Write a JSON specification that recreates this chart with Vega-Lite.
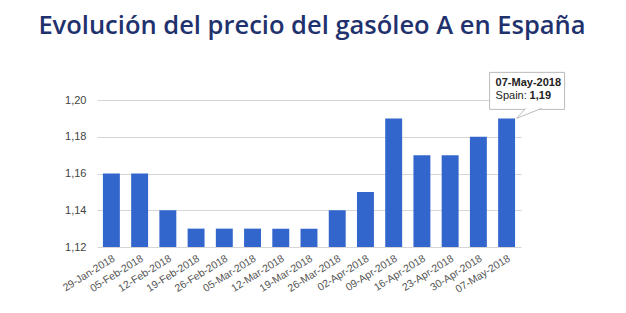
{
  "$schema": "https://vega.github.io/schema/vega-lite/v6.json",
  "autosize": "none",
  "width": 424,
  "height": 147,
  "padding": {"left": 97, "top": 100, "right": 105, "bottom": 66},
  "background": "white",
  "config": {
    "locale": {"number": {"decimal": ",", "thousands": ".", "grouping": [3], "currency": ["", " €"]}},
    "view": {"stroke": null},
    "font": "Liberation Sans"
  },
  "title": {
    "text": "Evolución del precio del gasóleo A en España",
    "font": "Open Sans",
    "fontSize": 25.5,
    "fontWeight": 600,
    "color": "#1f326e",
    "anchor": "middle",
    "baseline": "alphabetic",
    "offset": 12,
    "dx": 3
  },
  "data": {
    "values": [
      {"fecha": "29-Jan-2018", "precio": 1.16},
      {"fecha": "05-Feb-2018", "precio": 1.16},
      {"fecha": "12-Feb-2018", "precio": 1.14},
      {"fecha": "19-Feb-2018", "precio": 1.13},
      {"fecha": "26-Feb-2018", "precio": 1.13},
      {"fecha": "05-Mar-2018", "precio": 1.13},
      {"fecha": "12-Mar-2018", "precio": 1.13},
      {"fecha": "19-Mar-2018", "precio": 1.13},
      {"fecha": "26-Mar-2018", "precio": 1.14},
      {"fecha": "02-Apr-2018", "precio": 1.15},
      {"fecha": "09-Apr-2018", "precio": 1.19},
      {"fecha": "16-Apr-2018", "precio": 1.17},
      {"fecha": "23-Apr-2018", "precio": 1.17},
      {"fecha": "30-Apr-2018", "precio": 1.18},
      {"fecha": "07-May-2018", "precio": 1.19}
    ]
  },
  "encoding": {
    "x": {
      "field": "fecha",
      "type": "nominal",
      "sort": null,
      "title": null,
      "scale": {"paddingInner": 0.4, "paddingOuter": 0.21},
      "axis": {
        "labelAngle": -32,
        "labelFontSize": 10.5,
        "labelColor": "#555555",
        "ticks": false,
        "domain": false,
        "labelPadding": 6,
        "grid": false,
        "labelOverlap": false
      }
    },
    "y": {
      "field": "precio",
      "type": "quantitative",
      "title": null,
      "scale": {"domain": [1.12, 1.2], "zero": false, "nice": false},
      "axis": {
        "values": [1.12, 1.14, 1.16, 1.18, 1.2],
        "format": ".2f",
        "labelFontSize": 11,
        "labelColor": "#444444",
        "labelOverlap": false,
        "ticks": false,
        "domain": false,
        "labelPadding": 11,
        "gridColor": "#d6d6d6",
        "gridWidth": 1
      }
    }
  },
  "layer": [
    {
      "mark": {"type": "bar", "color": "#3366cc"},
      "encoding": {
        "y2": {"datum": 1.12}
      }
    },
    {
      "transform": [{"filter": "datum.fecha === '07-May-2018'"}],
      "mark": {
        "type": "rect",
        "fill": "white",
        "stroke": "#bbbbbb",
        "strokeWidth": 1,
        "width": 75,
        "xOffset": 20.5,
        "yOffset": -46,
        "y2Offset": -9,
        "clip": false
      },
      "encoding": {
        "y2": {"field": "precio"}
      }
    },
    {
      "transform": [{"filter": "datum.fecha === '07-May-2018'"}],
      "mark": {
        "type": "point",
        "shape": "M1.9,-1 L1,0 L3.5,-1",
        "size": 400,
        "filled": false,
        "fill": "white",
        "fillOpacity": 1,
        "stroke": "#bbbbbb",
        "strokeWidth": 1,
        "opacity": 1,
        "clip": false
      }
    },
    {
      "transform": [{"filter": "datum.fecha === '07-May-2018'"}],
      "mark": {"type": "text", "align": "left", "baseline": "middle", "fontWeight": "bold", "fontSize": 11, "color": "#222222", "dx": -11, "dy": -35},
      "encoding": {
        "text": {"field": "fecha"}
      }
    },
    {
      "transform": [{"filter": "datum.fecha === '07-May-2018'"}],
      "mark": {"type": "text", "align": "left", "baseline": "middle", "fontSize": 11, "color": "#222222", "dx": -11, "dy": -22},
      "encoding": {
        "text": {"value": "Spain:"}
      }
    },
    {
      "transform": [{"filter": "datum.fecha === '07-May-2018'"}],
      "mark": {"type": "text", "align": "left", "baseline": "middle", "fontSize": 11, "fontWeight": "bold", "color": "#222222", "dx": 23, "dy": -22},
      "encoding": {
        "text": {"field": "precio", "type": "quantitative", "format": ".2f"}
      }
    }
  ]
}
